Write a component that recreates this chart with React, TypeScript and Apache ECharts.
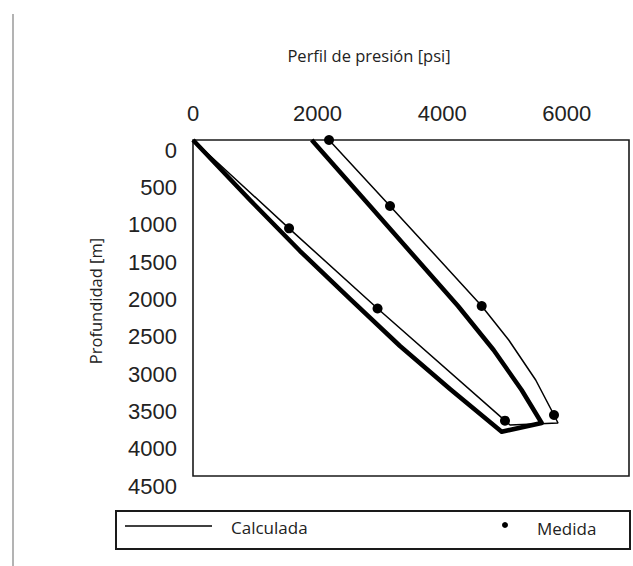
import React, { useEffect, useRef } from "react";
import * as echarts from "echarts";

// Thick line (Calculada) – pressure [psi] vs depth [m]
const calcPressure = [0, 915, 1718, 2521, 3323, 4126, 4956, 5598, 5276, 4826, 4255, 3548, 2842, 1906];
const calcDepth = [0, 804, 1487, 2129, 2759, 3335, 3907, 3790, 3348, 2813, 2223, 1554, 884, 0];

// Thin line through the measured points
const trendPressure = [0, 1542, 2963, 5009, 5090, 5860, 5796, 5502, 5069, 4635, 3901, 3163, 2184];
const trendDepth = [0, 1183, 2257, 3759, 3817, 3790, 3683, 3214, 2679, 2223, 1554, 884, 0];

// Measured points (Medida)
const measPressure = [2184, 3163, 4635, 5796, 1542, 2963, 5009];
const measDepth = [0, 884, 2223, 3683, 1183, 2257, 3759];

const xTitle = "Perfil de presión [psi]";
const yTitle = "Profundidad [m]";
const legendLine = "Calculada";
const legendDot = "Medida";

export default function App() {
  const ref = useRef<HTMLDivElement>(null);
  useEffect(() => {
    document.body.style.margin = "0";
    const chart = echarts.init(ref.current!, null, { renderer: "svg" });
    const pairs = (xs: number[], ys: number[]) => xs.map((x, i) => [x, ys[i]]);
    chart.setOption({
      animation: false,
      backgroundColor: "#fff",
      grid: {
        left: 193,
        top: 140,
        right: 4,
        bottom: 90,
        show: true,
        borderColor: "#1a1a1a",
        borderWidth: 1.6,
        backgroundColor: "transparent",
      },
      xAxis: {
        type: "value",
        position: "top",
        min: 0,
        max: 7000,
        interval: 2000,
        axisLine: { show: false },
        axisTick: { show: false },
        splitLine: { show: false },
        axisLabel: {
          showMaxLabel: false,
          formatter: (v: number) => String(v),
          fontFamily: "Liberation Sans",
          fontSize: 22,
          color: "#222",
          margin: 16,
        },
      },
      yAxis: {
        type: "value",
        inverse: true,
        min: 0,
        max: 4500,
        interval: 500,
        axisLine: { show: false },
        axisTick: { show: false },
        splitLine: { show: false },
        axisLabel: {
          formatter: (v: number) => String(v),
          fontFamily: "Liberation Sans",
          fontSize: 22,
          color: "#222",
          margin: 16,
          verticalAlign: "top",
          lineHeight: 20,
        },
      },
      series: [
        {
          type: "line",
          name: "calc",
          data: pairs(calcPressure, calcDepth),
          showSymbol: false,
          lineStyle: { color: "#000", width: 4.5, join: "round" },
          clip: false,
        },
        {
          type: "line",
          name: "trend",
          data: pairs(trendPressure, trendDepth),
          showSymbol: false,
          lineStyle: { color: "#000", width: 1.5 },
          clip: false,
        },
        {
          type: "scatter",
          name: "meas",
          data: pairs(measPressure, measDepth),
          symbolSize: 10,
          itemStyle: { color: "#000", opacity: 1 },
          clip: false,
        },
      ],
      graphic: [
        {
          type: "line",
          shape: { x1: 13, y1: 14, x2: 13, y2: 566 },
          style: { stroke: "#9a9a9a", lineWidth: 1.5 },
        },
        {
          type: "text",
          x: 369,
          y: 55,
          style: {
            text: xTitle,
            fontFamily: "Open Sans",
            fontSize: 16.5,
            fill: "#222",
            align: "center",
            verticalAlign: "middle",
          },
        },
        {
          type: "text",
          x: 95,
          y: 301,
          rotation: Math.PI / 2,
          style: {
            text: yTitle,
            fontFamily: "Open Sans",
            fontSize: 16.5,
            fill: "#222",
            align: "center",
            verticalAlign: "middle",
          },
        },
        {
          type: "rect",
          shape: { x: 116, y: 511, width: 514, height: 38 },
          style: { fill: "#fff", stroke: "#1a1a1a", lineWidth: 2 },
        },
        {
          type: "line",
          shape: { x1: 125, y1: 526, x2: 212, y2: 526 },
          style: { stroke: "#000", lineWidth: 1.5 },
        },
        {
          type: "text",
          x: 231,
          y: 527,
          style: {
            text: legendLine,
            fontFamily: "Open Sans",
            fontSize: 17,
            fill: "#222",
            align: "left",
            verticalAlign: "middle",
          },
        },
        {
          type: "circle",
          shape: { cx: 505, cy: 525, r: 3 },
          style: { fill: "#000" },
        },
        {
          type: "text",
          x: 537,
          y: 528,
          style: {
            text: legendDot,
            fontFamily: "Open Sans",
            fontSize: 17,
            fill: "#222",
            align: "left",
            verticalAlign: "middle",
          },
        },
      ],
    });
    return () => chart.dispose();
  }, []);
  return <div ref={ref} style={{ width: 633, height: 566 }} />;
}
